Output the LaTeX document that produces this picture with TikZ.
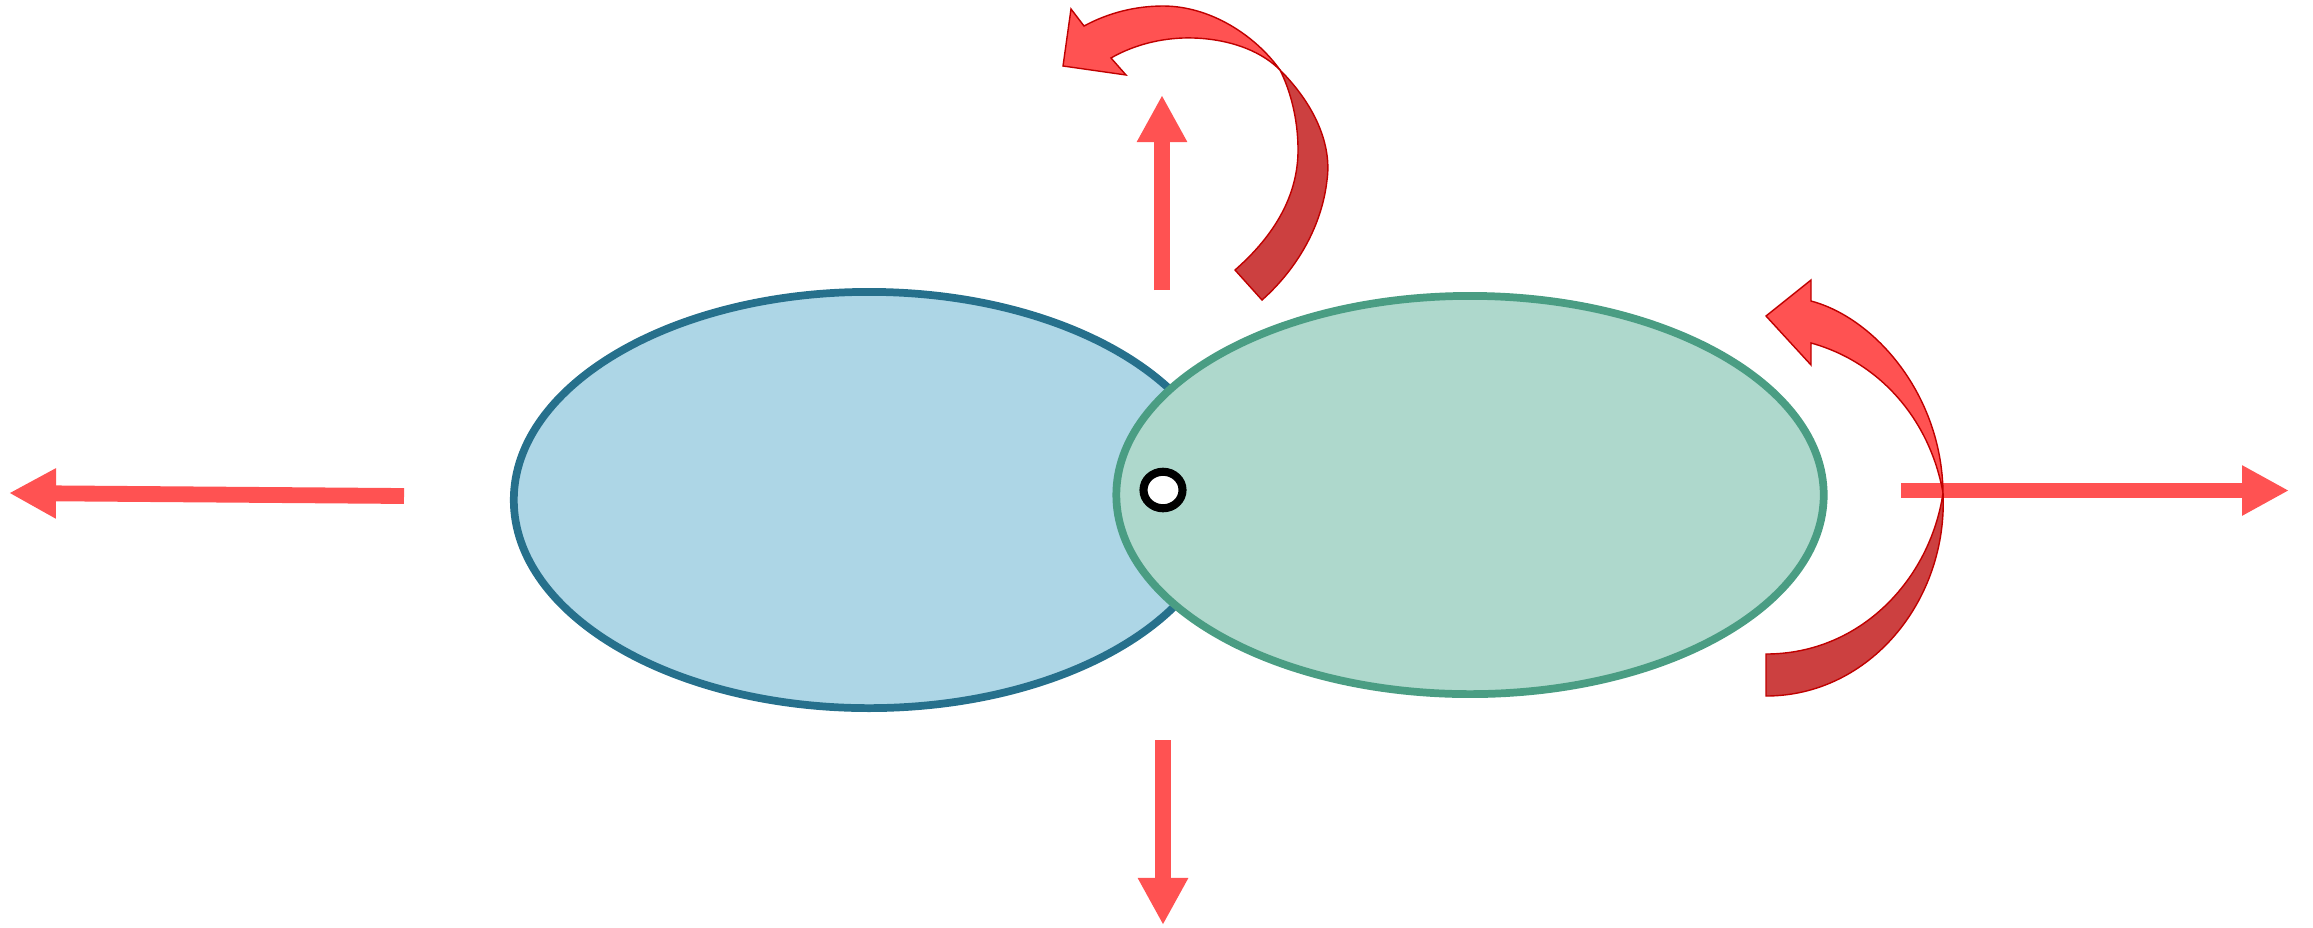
\documentclass[tikz,border=0pt]{standalone}
\usepackage{tikz}
\usetikzlibrary{arrows.meta, shapes.geometric}
\definecolor{lobeblue}{HTML}{ADD6E6}
\definecolor{lobeblueline}{HTML}{26708C}
\definecolor{lobegreen}{HTML}{AED8CC}
\definecolor{lobegreenline}{HTML}{4A9D83}
\definecolor{forcered}{HTML}{FF5252}
\definecolor{torquedark}{HTML}{CC4040}
\definecolor{torqueline}{HTML}{C00000}

\begin{document}
\begin{tikzpicture}[x=0.01cm, y=-0.01cm,
  lobe/.style={ellipse, draw, line width=2.2pt, inner sep=0pt},
  force/.style={draw=forcered, line width=4.5pt, -{Triangle[length=0.47cm, width=0.47cm]}},
  front/.style={fill=forcered, draw=torqueline, line width=0.4pt},
  back/.style={fill=torquedark, draw=torqueline, line width=0.4pt}]
\useasboundingbox (0,0) rectangle (2313,927);
\node[lobe, draw=lobeblueline, fill=lobeblue, minimum width=7.1cm, minimum height=4.16cm] (blue) at (869,500) {};
\node[lobe, draw=lobegreenline, fill=lobegreen, minimum width=7.07cm, minimum height=3.98cm] (green) at (1470,495) {};
\node[ellipse, draw, line width=2.3pt, fill=white, inner sep=0pt, minimum width=0.39cm, minimum height=0.365cm] (pivot) at (1163,490) {};
\coordinate (upS) at (1162,290);
\coordinate (upT) at (1162,95);
\coordinate (downS) at (1163,740);
\coordinate (downT) at (1163,925);
\coordinate (leftS) at (404,496);
\coordinate (leftT) at (9,493);
\coordinate (rightS) at (1901,490.5);
\coordinate (rightT) at (2289,490.5);
\draw[force] (upS) -- (upT);
\draw[force] (downS) -- (downT);
\draw[force] (leftS) -- (leftT);
\draw[force] (rightS) -- (rightT);
\draw[front] (1063,66) -- (1071,9) -- (1084,26) .. controls (1108,13) and (1135,6) .. (1163,6)
  .. controls (1210,6) and (1255,35) .. (1280,70) .. controls (1255,45) and (1215,37) .. (1183,38)
  .. controls (1155,39) and (1130,47) .. (1111,58) -- (1126,75) -- cycle;
\draw[back] (1280,70) .. controls (1315,105) and (1332,145) .. (1327,180)
  .. controls (1322,225) and (1298,268) .. (1262,300) -- (1235,270)
  .. controls (1275,235) and (1298,195) .. (1298,150) .. controls (1298,118) and (1290,90) .. (1280,70) -- cycle;
\draw[front] (1766,316) -- (1811,280) -- (1811,301) .. controls (1875,318) and (1942,395) .. (1943,493)
  .. controls (1930,420) and (1880,362) .. (1811,343) -- (1811,365) -- cycle;
\draw[back] (1943,493) .. controls (1948,600) and (1870,696) .. (1766,696) -- (1766,654)
  .. controls (1860,654) and (1930,580) .. (1943,493) -- cycle;
\end{tikzpicture}
\end{document}
